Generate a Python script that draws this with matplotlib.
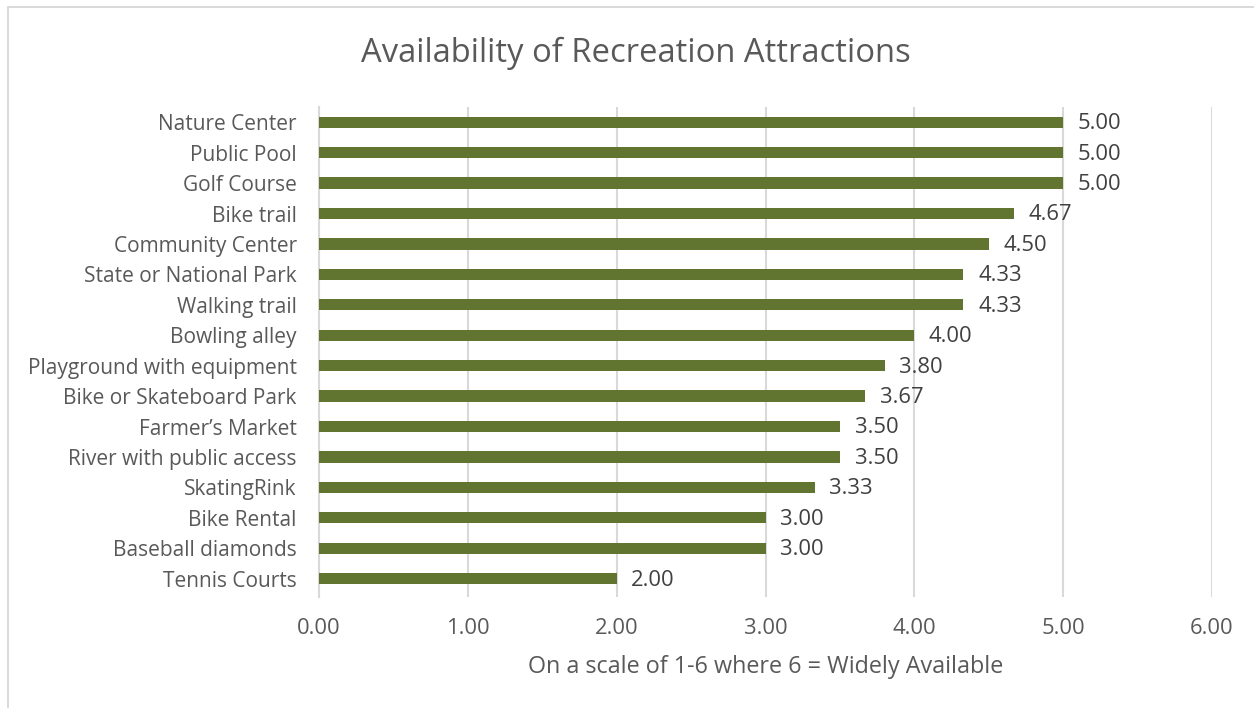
import matplotlib.pyplot as plt
from matplotlib.lines import Line2D

# Recreation attractions and their average availability score
attractions = ["Nature Center", "Public Pool", "Golf Course", "Bike trail",
               "Community Center", "State or National Park", "Walking trail",
               "Bowling alley", "Playground with equipment",
               "Bike or Skateboard Park", "Farmer\u2019s Market",
               "River with public access", "SkatingRink", "Bike Rental",
               "Baseball diamonds", "Tennis Courts"]
scores = [5.00, 5.00, 5.00, 4.67, 4.50, 4.33, 4.33, 4.00, 3.80, 3.67,
          3.50, 3.50, 3.33, 3.00, 3.00, 2.00]
xticks = [0, 1, 2, 3, 4, 5, 6]

plt.rcParams['font.family'] = ['Open Sans', 'DejaVu Sans']

fig = plt.figure(figsize=(12.54, 7.08), dpi=100)
ax = fig.add_axes([0.2544, 0.1568, 0.7121, 0.6921])

# chart frame: only the left and top edges fall inside the image
fig.add_artist(Line2D([0.0065, 0.0065, 1.0], [0.0, 0.9895, 0.9895],
                      transform=fig.transFigure, color='#D9D9D9', linewidth=1.4))

ypos = list(range(len(attractions)))
ax.barh(ypos, scores, height=0.37, color='#617530', zorder=3)

for y, v in zip(ypos, scores):
    ax.annotate('%.2f' % v, (v, y), xytext=(10.5, -1), textcoords='offset points',
                va='center', ha='left', fontsize=15.8, color='#404040')

ax.set_yticks(ypos)
ax.set_yticklabels(attractions, fontsize=15, color='#595959')
ax.set_ylim(len(attractions) - 0.4, -0.5)

ax.set_xlim(0, 6)
ax.set_xticks(xticks)
ax.set_xticklabels(['%.2f' % t for t in xticks], fontsize=15.8, color='#595959')
ax.tick_params(length=0)
ax.tick_params(axis='x', pad=15)
ax.tick_params(axis='y', pad=16)
ax.grid(axis='x', color='#D9D9D9', linewidth=1.5, zorder=0)

for side in ['top', 'right', 'bottom']:
    ax.spines[side].set_visible(False)
ax.spines['left'].set_color('#D9D9D9')
ax.spines['left'].set_linewidth(1.5)

ax.set_xlabel('On a scale of 1-6 where 6 = Widely Available', fontsize=16.8,
              color='#595959', labelpad=12)
fig.text(0.507, 0.924, 'Availability of Recreation Attractions', ha='center',
         va='center', fontsize=23.6, color='#595959')

fig.savefig('out.png', dpi=100, facecolor='white')
